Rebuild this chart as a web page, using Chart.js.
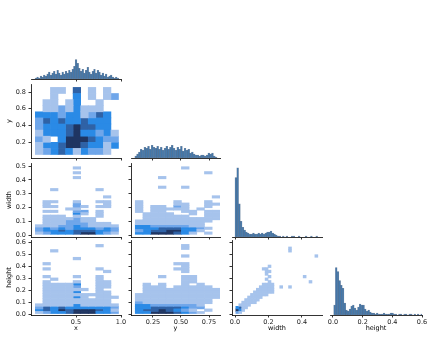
<!DOCTYPE html>
<html>
<head>
<meta charset="utf-8">
<script src="https://cdn.jsdelivr.net/npm/chart.js@4.4.1/dist/chart.umd.min.js"></script>
<style>
  html, body { margin: 0; padding: 0; background: #fff; }
  #fig { position: relative; width: 435px; height: 337px; overflow: hidden; }
  #fig canvas { position: absolute; }
</style>
</head>
<body>
<div id="fig"></div>
<script>
// pair grid variables
const variables = ["x", "y", "width", "height"];

// tick labels per column (bottom) and per row (left)
const colTicks = [[0.5, 1.0], [0.25, 0.5, 0.75], [0.0, 0.2, 0.4], [0.0, 0.2, 0.4, 0.6]];
const colDecimals = [1, 2, 1, 1];
const rowTicks = [[], [0.2, 0.4, 0.6, 0.8], [0.0, 0.1, 0.2, 0.3, 0.4, 0.5], [0.0, 0.1, 0.2, 0.3, 0.4, 0.5, 0.6]];

// bin edges: [first edge, bin width]
const xBins = [0.048, 0.084];
const yRowBins = [0.05, 0.0732];
const yColBins = [0.092, 0.0686];
const widthBins = [0.005, 0.0175];
const heightBins = [0.0, 0.0215];

const xHistBins = [0.045, 0.0186];
const yHistBins = [0.088, 0.0163];
const widthHistBins = [0.0, 0.0105];
const heightHistBins = [0.005, 0.0115];

// diagonal histogram counts
const xHist = [1, 2, 1, 3, 2, 4, 3, 5, 7, 4, 6, 8, 5, 9, 6, 4, 7, 5, 8, 6, 9, 7, 10, 13, 20, 16, 11, 8, 10, 6,
  9, 12, 7, 5, 8, 10, 6, 9, 7, 4, 6, 3, 5, 2, 3, 4, 2, 1, 2, 1];
const yHist = [2, 4, 6, 9, 8, 11, 10, 12, 9, 13, 11, 10, 12, 9, 11, 8, 10, 12, 9, 11, 13, 10, 8, 11, 9, 12, 7, 10, 8, 9,
  5, 6, 4, 3, 3, 2, 3, 3, 2, 3, 5, 4, 5, 2, 1];
const widthHist = [61, 71, 34, 16, 10, 7, 5, 4, 3, 3, 4, 3, 3, 4, 3, 4, 3, 4, 5, 5, 6, 4, 3, 2, 1, 1, 0, 1, 0, 1,
  0, 0, 1, 1, 0, 0, 1, 0, 0, 0, 1, 0, 0, 1, 0, 0, 1, 0];
const heightHist = [10, 48, 44, 35, 30, 27, 12, 5, 4, 6, 9, 10, 7, 5, 8, 11, 10, 10, 6, 4, 5, 3, 2, 2, 1, 2, 1, 1, 1, 2,
  1, 1, 1, 2, 2, 1, 1, 0, 1, 1, 0, 1, 1, 0, 1, 1, 0, 1, 0, 1, 0, 1];

// 2d histogram density levels (0 empty .. 5 darkest), first string = top bin
const xyGrid = [
  "00110401010",
  "00100301012",
  "01101300100",
  "01121311100",
  "33323312430",
  "24343343330",
  "23334544330",
  "13334533231",
  "21035554322",
  "13345543313",
  "12343132210"
];
const xWidthGrid = [
  "00000000000",
  "00000100000",
  "00000000000",
  "00000100000",
  "00000000000",
  "00000100000",
  "00000000000",
  "00000000000",
  "00000000000",
  "00000000000",
  "00100000100",
  "00000000000",
  "00000000000",
  "00000000010",
  "00000000000",
  "01100100110",
  "01000200010",
  "01100210110",
  "00001100000",
  "01100220100",
  "00000310100",
  "01110100100",
  "01111211000",
  "01112211000",
  "01112221110",
  "11122321111",
  "23232333232",
  "23343444332",
  "12333455321"
];
const yWidthGrid = [
  "00000000000",
  "00000010000",
  "00000000000",
  "00000000010",
  "00000000000",
  "00010000000",
  "00000000000",
  "00000000000",
  "00000000000",
  "00010010000",
  "00000000000",
  "00000000000",
  "00000000000",
  "00000000001",
  "00000000000",
  "10000100010",
  "10000110011",
  "10110210010",
  "10111110100",
  "10110011011",
  "01111001011",
  "01111110011",
  "01111111111",
  "11111111110",
  "11111111100",
  "33222221100",
  "33344433210",
  "23445533100",
  "33555431010"
];
const xHeightGrid = [
  "00000000000",
  "00000000000",
  "00000000100",
  "00000000000",
  "00100000000",
  "00000000000",
  "00000000000",
  "00000100000",
  "00000000000",
  "01000000000",
  "00000000000",
  "01000000100",
  "00000000010",
  "00000000000",
  "01000100100",
  "00100000100",
  "01000100110",
  "01111300110",
  "01111200110",
  "01111110100",
  "01111300110",
  "01111111110",
  "01111310111",
  "01111111110",
  "01111111110",
  "11111311111",
  "24343333332",
  "34354555431",
  "12334555332"
];
const yHeightGrid = [
  "00000000000",
  "00000000000",
  "00000010000",
  "00000010000",
  "00000000000",
  "00000000000",
  "00000010000",
  "00000000000",
  "00000000000",
  "00000110000",
  "00000010000",
  "00000110000",
  "00000010000",
  "00000000000",
  "00010011000",
  "00000011000",
  "00000011000",
  "01010010100",
  "01110111110",
  "01111111111",
  "01111111111",
  "11111111111",
  "11111111111",
  "11111111110",
  "21111111110",
  "33222222100",
  "33444432200",
  "34454321010",
  "33555432100"
];
const widthHeightGrid = [
  "00000000000000000000000000000",
  "00000000000000000000000000000",
  "00000000000000000000000000000",
  "00000000000000000010000000000",
  "00000000000000000010000000000",
  "00000000000000000000000000000",
  "00000000000000000000000000010",
  "00000000000000000000000000000",
  "00000000000000000000000000000",
  "00000000000000000000000000000",
  "00000000000100000000000000000",
  "00000000011000000000000000000",
  "00000000001100000000000000000",
  "00000000001000000000000000000",
  "00000000000100000000000100000",
  "00000000001000000000000000000",
  "00000000000100000000000001000",
  "00000000011110000000000000000",
  "00000000111110010010000000000",
  "00000001111110000000000000000",
  "00000011111110000000000000000",
  "00000111111000000000000000000",
  "00001111100000000000000000000",
  "00011111000000000000000000000",
  "00111110000000000000000000000",
  "01111000000000000000000000000",
  "34110000000000000000000000000",
  "53100000000000000000000000000",
  "21000000000000000000000000000"
];

// layout of the grid (page pixels) and axis ranges
const COLS = [
  { left: 31, right: 121, min: 0.0, max: 1.0 },
  { left: 131, right: 220, min: 0.054, max: 0.848 },
  { left: 232, right: 322, min: -0.018, max: 0.52 },
  { left: 330, right: 422, min: -0.02, max: 0.6 }
];
const ROWS = [
  { top: 5, bottom: 79 },
  { top: 84, bottom: 158, min: 0.008, max: 0.896 },
  { top: 163, bottom: 237, min: -0.0145, max: 0.522 },
  { top: 240, bottom: 315, min: -0.008, max: 0.617 }
];
const DIAG_MAX = 76;
const L = 26, B = 17, T = 8, R = 10;
const FONT = { family: "DejaVu Sans", size: 6.5 };
const LEVEL_COLORS = ["#a6c3ec", "#6fa6ea", "#2a8ae6", "#2f62a6", "#1f3562"];
const HIST_FILL = "rgb(68,120,170)";
const HIST_EDGE = "rgba(30,60,100,0.6)";

const fig = document.getElementById("fig");

function heatSets(grid, xb, yb) {
  const n = grid.length;
  const sets = LEVEL_COLORS.map(c => ({ data: [], backgroundColor: c }));
  grid.forEach((row, r) => {
    const k = n - 1 - r;
    [...row].forEach((ch, i) => {
      const lv = +ch;
      if (!lv) return;
      sets[lv - 1].data.push({
        x: xb[0] + (i + 0.5) * xb[1],
        y: [yb[0] + k * yb[1], yb[0] + (k + 1) * yb[1]]
      });
    });
  });
  return sets.filter(s => s.data.length).map(s => ({
    ...s, grouped: false, barPercentage: 1, categoryPercentage: 1, borderWidth: 0
  }));
}

function histSet(counts, b) {
  const data = [];
  counts.forEach((c, i) => { if (c > 0) data.push({ x: b[0] + (i + 0.5) * b[1], y: c }); });
  return [{
    data, grouped: false, barPercentage: 1, categoryPercentage: 1,
    backgroundColor: HIST_FILL, borderColor: HIST_EDGE, borderWidth: 0.5, borderSkipped: false
  }];
}

function panel(ri, ci, datasets) {
  const col = COLS[ci], row = ROWS[ri];
  const diag = ri === ci;
  const w = col.right - col.left + L + R;
  const h = row.bottom - row.top + T + B;
  const cv = document.createElement("canvas");
  cv.width = w; cv.height = h;
  cv.style.left = (col.left - L) + "px";
  cv.style.top = (row.top - T) + "px";
  cv.style.width = w + "px";
  cv.style.height = h + "px";
  fig.appendChild(cv);

  const tickMarks = { display: true, drawOnChartArea: false, drawTicks: true, tickLength: 2.5, tickColor: "#000", tickWidth: 0.8 };
  const yAxis = diag ? {
    type: "linear", min: 0, max: DIAG_MAX,
    border: { display: false }, grid: { display: false }, ticks: { display: false },
    afterFit: s => { s.width = L; }
  } : {
    type: "linear", min: row.min, max: row.max,
    afterBuildTicks: s => { s.ticks = rowTicks[ri].map(v => ({ value: v })); },
    afterFit: s => { s.width = L; },
    border: { display: true, color: "#000", width: 0.8 },
    grid: tickMarks,
    ticks: { display: ci === 0, font: FONT, color: "#222", padding: 2.5, autoSkip: false, callback: v => v.toFixed(1) },
    title: { display: ci === 0, text: variables[ri], font: FONT, color: "#000", padding: 0 }
  };

  new Chart(cv, {
    type: "bar",
    data: { datasets },
    options: {
      responsive: false,
      animation: false,
      devicePixelRatio: 1,
      events: [],
      layout: { padding: { top: T, right: R, left: 0, bottom: 0 } },
      plugins: { legend: { display: false }, tooltip: { enabled: false } },
      scales: {
        x: {
          type: "linear", min: col.min, max: col.max, offset: false,
          afterBuildTicks: s => { s.ticks = colTicks[ci].map(v => ({ value: v })); },
          afterFit: s => { s.height = B; },
          border: { display: true, color: "#000", width: 0.8 },
          grid: { ...tickMarks, offset: false },
          ticks: { display: ri === 3, font: FONT, color: "#222", padding: 1, maxRotation: 0, autoSkip: false,
            callback: v => v.toFixed(colDecimals[ci]) },
          title: { display: ri === 3, text: variables[ci], font: FONT, color: "#000", padding: 0 }
        },
        y: yAxis
      }
    }
  });
}

// diagonal histograms
panel(0, 0, histSet(xHist, xHistBins));
panel(1, 1, histSet(yHist, yHistBins));
panel(2, 2, histSet(widthHist, widthHistBins));
panel(3, 3, histSet(heightHist, heightHistBins));

// lower triangle 2d histograms
panel(1, 0, heatSets(xyGrid, xBins, yRowBins));
panel(2, 0, heatSets(xWidthGrid, xBins, widthBins));
panel(2, 1, heatSets(yWidthGrid, yColBins, widthBins));
panel(3, 0, heatSets(xHeightGrid, xBins, heightBins));
panel(3, 1, heatSets(yHeightGrid, yColBins, heightBins));
panel(3, 2, heatSets(widthHeightGrid, widthBins, heightBins));
</script>
</body>
</html>
